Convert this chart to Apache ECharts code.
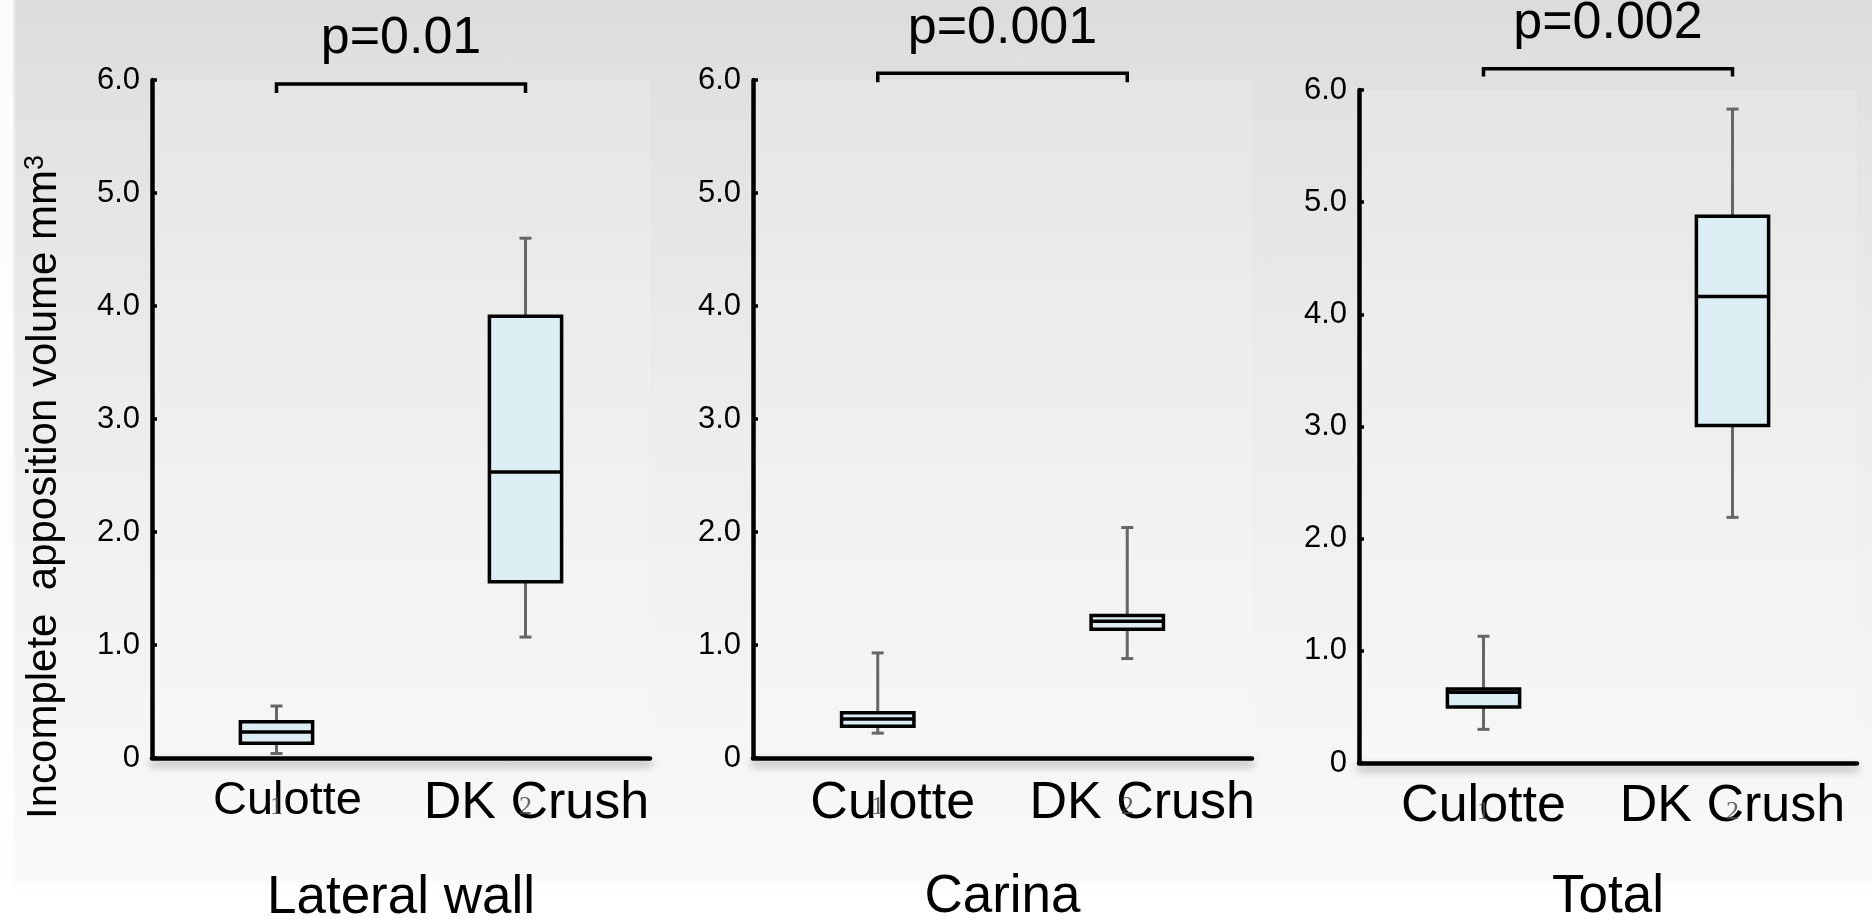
<!DOCTYPE html>
<html>
<head>
<meta charset="utf-8">
<title>Incomplete apposition volume</title>
<script src="https://cdn.jsdelivr.net/npm/echarts@6/dist/echarts.min.js"></script>
<style>
  html, body { margin: 0; padding: 0; }
  body {
    width: 1872px; height: 919px; overflow: hidden;
    background:
      linear-gradient(to right, rgba(255,255,255,0.9) 0, rgba(255,255,255,0.9) 12px, rgba(255,255,255,0) 16px),
      linear-gradient(to bottom, #dcdcdc 0%, #e2e2e2 12%, #e8e8e8 30%, #eeeeee 50%, #f3f3f3 70%, #f8f8f8 90%, #fafafa 95.5%, #ffffff 97%, #ffffff 100%);
  }
  #chart { width: 1872px; height: 919px; }
</style>
</head>
<body>
<div id="chart"></div>
<script>
// ---- data ----
const categories = ['Culotte', 'DK Crush'];
const panelNames = ['Lateral wall', 'Carina', 'Total'];
const pLabels = ['p=0.01', 'p=0.001', 'p=0.002'];
// [min, Q1, median, Q3, max] for Culotte, DK Crush
const lateralWall = [[0.04, 0.13, 0.23, 0.32, 0.46], [1.07, 1.56, 2.53, 3.91, 4.60]];
const carina      = [[0.22, 0.28, 0.345, 0.40, 0.93], [0.88, 1.14, 1.21, 1.26, 2.04]];
const total       = [[0.30, 0.50, 0.63, 0.66, 1.13], [2.19, 3.01, 4.16, 4.875, 5.83]];
const bracketTop = [5.965, 6.06, 6.19];
const bracketLeg = [5.885, 5.98, 6.12];
const yMin = 0, yMax = 6, yStep = 1;

const panels = [lateralWall, carina, total];
const FONT = "'Liberation Sans', Arial, Helvetica, sans-serif";

// ---- layout ----
const grids = [
  { left: 152, top: 80, width: 498, height: 678 },
  { left: 753, top: 80, width: 499, height: 678 },
  { left: 1359, top: 90, width: 498, height: 673 }
];
const labelMargin = [20, 20, 18];
const labelShift = [22, 30, 0];   // category names sit a bit right of centre in panels 1-2
const nameGap = [114, 113, 108];

const chart = echarts.init(document.getElementById('chart'), null, { renderer: 'canvas' });

function renderBox(params, api) {
  const i = api.value(0);
  const lo = api.coord([i, api.value(1)]), q1 = api.coord([i, api.value(2)]),
        md = api.coord([i, api.value(3)]), q3 = api.coord([i, api.value(4)]),
        hi = api.coord([i, api.value(5)]);
  const x = lo[0], half = api.size([1, 0])[0] * 0.145, cap = 6;
  const wk = { stroke: '#666', lineWidth: 3 };
  return { type: 'group', children: [
    { type: 'line', shape: { x1: x, y1: hi[1], x2: x, y2: q3[1] }, style: wk },
    { type: 'line', shape: { x1: x, y1: q1[1], x2: x, y2: lo[1] }, style: wk },
    { type: 'line', shape: { x1: x - cap, y1: hi[1], x2: x + cap, y2: hi[1] }, style: wk },
    { type: 'line', shape: { x1: x - cap, y1: lo[1], x2: x + cap, y2: lo[1] }, style: wk },
    { type: 'rect', shape: { x: x - half, y: q3[1], width: 2 * half, height: q1[1] - q3[1] },
      style: { fill: '#dcedf3', stroke: '#000', lineWidth: 3.5 } },
    { type: 'line', shape: { x1: x - half, y1: md[1], x2: x + half, y2: md[1] },
      style: { stroke: '#000', lineWidth: 3.5 } }
  ] };
}

const bracketRenderer = k => (params, api) => {
  const a = api.coord([0, api.value(0)]), b = api.coord([1, api.value(0)]);
  const la = api.coord([0, api.value(1)]), lb = api.coord([1, api.value(1)]);
  return { type: 'group', children: [
    { type: 'polyline', shape: { points: [la, a, b, lb] },
      style: { stroke: '#000', lineWidth: 3.5, fill: null, lineJoin: 'miter' } },
    { type: 'text', x: (a[0] + b[0]) / 2, y: a[1] - 19,
      style: { text: pLabels[k], font: '52px ' + FONT, fill: '#000', align: 'center', verticalAlign: 'bottom' } }
  ] };
};

const xAxis = [], yAxis = [], series = [];
panels.forEach((groups, k) => {
  xAxis.push({
    type: 'category', gridIndex: k, data: categories, boundaryGap: true,
    axisLine: { lineStyle: { color: '#000', width: 4.5, shadowColor: 'rgba(0,0,0,0.35)', shadowBlur: 8, shadowOffsetY: 5 } },
    axisTick: { inside: true, length: 9, lineStyle: { color: '#000', width: 3.5 } },
    axisLabel: { margin: labelMargin[k], color: '#000', fontSize: 52, fontFamily: FONT, interval: 0,
      padding: [0, 0, 0, labelShift[k]],
      formatter: (v, i) => (k === 0 && i === 0) ? '{s|' + v + '}' : v,
      rich: { s: { fontSize: 47, fontFamily: FONT, color: '#000' } } },
    name: panelNames[k], nameLocation: 'middle', nameGap: nameGap[k],
    nameTextStyle: { fontSize: 53, color: '#000', fontFamily: FONT }
  });
  // faint group numbers sitting under the category names
  xAxis.push({
    type: 'category', gridIndex: k, data: categories, position: 'bottom',
    axisLine: { show: false }, axisTick: { show: false },
    axisLabel: { margin: 36, color: 'rgba(70,70,70,0.85)', fontSize: 26, fontFamily: "'Liberation Serif', serif",
      interval: 0, formatter: (v, i) => String(i + 1) }
  });
  yAxis.push({
    type: 'value', gridIndex: k, min: yMin, max: yMax, interval: yStep,
    axisLine: { show: true, lineStyle: { color: '#000', width: 4.5 } },
    axisTick: { show: true, inside: true, length: 5, lineStyle: { color: '#000', width: 3.5 } },
    splitLine: { show: false },
    axisLabel: { margin: 12, color: '#000', fontSize: 31, fontFamily: FONT,
      formatter: v => v === 0 ? '0' : v.toFixed(1) }
  });
  series.push({
    type: 'custom', xAxisIndex: 2 * k, yAxisIndex: k, renderItem: renderBox,
    encode: { x: 0, y: [1, 2, 3, 4, 5] },
    data: groups.map((g, i) => [i].concat(g))
  });
  series.push({
    type: 'custom', xAxisIndex: 2 * k, yAxisIndex: k, renderItem: bracketRenderer(k),
    encode: { y: [0, 1] }, clip: false, z: 5,
    data: [[bracketTop[k], bracketLeg[k]]]
  });
});

chart.setOption({
  animation: false,
  backgroundColor: 'transparent',
  grid: grids.map(g => Object.assign({
    show: true, backgroundColor: 'rgba(255,255,255,0.15)', borderWidth: 0,
    containLabel: false, outerBoundsMode: 'none'
  }, g)),
  xAxis, yAxis, series,
  graphic: [{
    type: 'text', x: 44, y: 487, rotation: Math.PI / 2,
    style: {
      text: 'Incomplete  apposition volume mm{sup|3}',
      font: '42px ' + FONT, fill: '#000', align: 'center', verticalAlign: 'middle',
      rich: { sup: { fontSize: 27, fontFamily: FONT, verticalAlign: 'top', padding: [0, 0, 16, 0] } }
    }
  }]
});
window.addEventListener('resize', () => chart.resize());
</script>
</body>
</html>
